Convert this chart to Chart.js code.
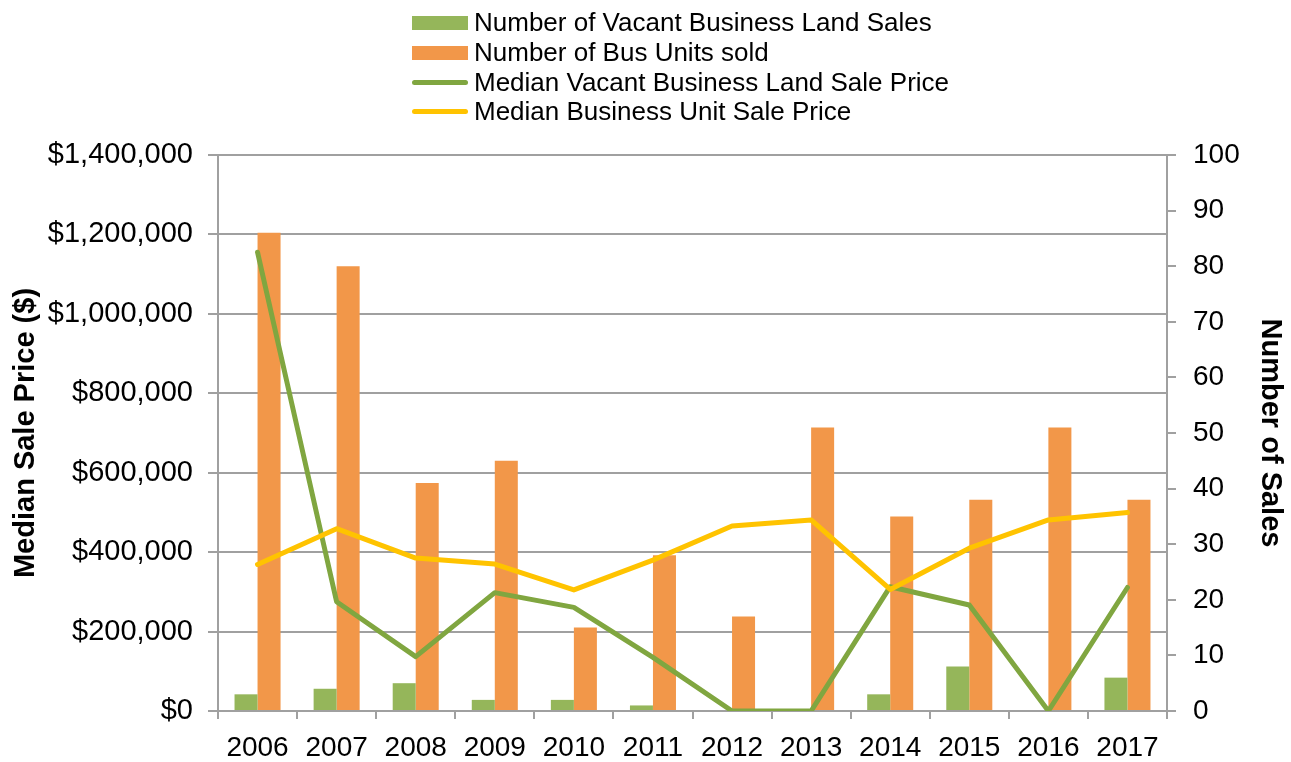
<!DOCTYPE html>
<html>
<head>
<meta charset="utf-8">
<script src="https://cdn.jsdelivr.net/npm/chart.js@4.4.1/dist/chart.umd.min.js"></script>
<style>
    body { margin: 0; background: #fff; }
    #wrap { position: relative; width: 1291px; height: 762px; }
    #legend { position: absolute; left: 412px; top: 8px; font-family: 'Liberation Sans', Arial, sans-serif; font-size: 26px; color: #000; }
    #legend ul { list-style: none; margin: 0; padding: 0; }
    #legend li { display: flex; align-items: center; height: 29.7px; white-space: nowrap; }
    #legend .sw { width: 56px; margin-right: 6px; flex: none; }
</style>
</head>
<body>
<div id="wrap">
    <canvas id="salesChart" width="1291" height="762"></canvas>
    <div id="legend"></div>
</div>
<script>
//======== DATA ===========//

let years = ['2006', '2007', '2008', '2009', '2010', '2011', '2012', '2013', '2014', '2015', '2016', '2017'];

// number of sales (right axis)
let vacantLandSales = [3, 4, 5, 2, 2, 1, 0, 0, 3, 8, 0, 6];
let busUnitsSold = [86, 80, 41, 45, 15, 28, 17, 51, 35, 38, 51, 38];

// median prices (left axis)
let medianLandPrice = [1155000, 275000, 137000, 298000, 261000, 135000, 0, 0, 313000, 267000, 0, 311000];
let medianUnitPrice = [369000, 459000, 385000, 370000, 305000, 380000, 466000, 481000, 306000, 410000, 481000, 500000];

let seriesNames = [
    'Number of Vacant Business Land Sales',
    'Number of Bus Units sold',
    'Median Vacant Business Land Sale Price',
    'Median Business Unit Sale Price'
];

//======== CHART ===========//

let gridGrey = '#A0A0A0';
let fontFamily = "'Liberation Sans', Arial, sans-serif";

Chart.defaults.font.family = fontFamily;
Chart.defaults.color = '#000';

// builds the 4 line legend above the chart
let htmlLegend = {
    id: 'htmlLegend',
    afterUpdate(chart) {
        let box = document.getElementById('legend');
        box.innerHTML = '';
        let ul = document.createElement('ul');
        chart.data.datasets.forEach(function (ds) {
            let li = document.createElement('li');
            let sw = document.createElement('span');
            sw.className = 'sw';
            if (ds.type == 'line') {
                sw.style.height = '5px';
                sw.style.borderRadius = '3px';
                sw.style.background = ds.borderColor;
            } else {
                sw.style.height = '14px';
                sw.style.background = ds.backgroundColor;
            }
            li.appendChild(sw);
            li.appendChild(document.createTextNode(ds.label));
            ul.appendChild(li);
        });
        box.appendChild(ul);
    }
};

let ctx = document.getElementById('salesChart').getContext('2d');

let salesChart = new Chart(ctx, {
    type: 'bar',
    data: {
        labels: years,
        datasets: [
            {
                type: 'bar',
                label: seriesNames[0],
                data: vacantLandSales,
                backgroundColor: '#95B65A',
                yAxisID: 'y1',
                order: 3,
                categoryPercentage: 0.582,
                barPercentage: 1.0
            },
            {
                type: 'bar',
                label: seriesNames[1],
                data: busUnitsSold,
                backgroundColor: '#F29749',
                yAxisID: 'y1',
                order: 4,
                categoryPercentage: 0.582,
                barPercentage: 1.0
            },
            {
                type: 'line',
                label: seriesNames[2],
                data: medianLandPrice,
                borderColor: '#80A640',
                borderWidth: 5,
                pointRadius: 0,
                tension: 0,
                borderCapStyle: 'round',
                borderJoinStyle: 'round',
                yAxisID: 'y',
                order: 2
            },
            {
                type: 'line',
                label: seriesNames[3],
                data: medianUnitPrice,
                borderColor: '#FFC300',
                borderWidth: 5,
                pointRadius: 0,
                tension: 0,
                borderCapStyle: 'round',
                borderJoinStyle: 'round',
                yAxisID: 'y',
                order: 1
            }
        ]
    },
    options: {
        responsive: false,
        animation: false,
        devicePixelRatio: 1,
        layout: {
            padding: { top: 155, left: 0, right: 0, bottom: 0 }
        },
        plugins: {
            legend: { display: false },
            tooltip: { enabled: false }
        },
        scales: {
            x: {
                offset: true,
                grid: {
                    offset: true,
                    drawOnChartArea: false,
                    drawTicks: true,
                    tickLength: 8,
                    color: gridGrey,
                    lineWidth: 2
                },
                border: { display: true, color: gridGrey, width: 2 },
                ticks: {
                    font: { size: 28 },
                    padding: 12,
                    maxRotation: 0,
                    autoSkip: false
                },
                afterFit: function (scale) { scale.height = 51; }
            },
            y: {
                position: 'left',
                min: 0,
                max: 1400000,
                grid: {
                    color: gridGrey,
                    lineWidth: 2,
                    tickLength: 10
                },
                border: { display: true, color: gridGrey, width: 2 },
                ticks: {
                    stepSize: 200000,
                    font: { size: 29 },
                    padding: 15,
                    callback: function (v) { return '$' + v.toLocaleString('en-US'); }
                },
                title: {
                    display: true,
                    text: 'Median Sale Price ($)',
                    font: { size: 29, weight: 'bold' },
                    padding: { top: 9, bottom: 0 }
                },
                afterFit: function (scale) { scale.width = 218; }
            },
            y1: {
                position: 'right',
                min: 0,
                max: 100,
                grid: {
                    drawOnChartArea: false,
                    color: gridGrey,
                    lineWidth: 2,
                    tickLength: 9
                },
                border: { display: true, color: gridGrey, width: 2 },
                ticks: {
                    stepSize: 10,
                    font: { size: 28 },
                    padding: 17
                },
                title: {
                    display: true,
                    text: 'Number of Sales',
                    font: { size: 29, weight: 'bold' },
                    padding: { top: 4, bottom: 0 }
                },
                afterFit: function (scale) { scale.width = 124; }
            }
        }
    },
    plugins: [htmlLegend]
});
</script>
</body>
</html>
